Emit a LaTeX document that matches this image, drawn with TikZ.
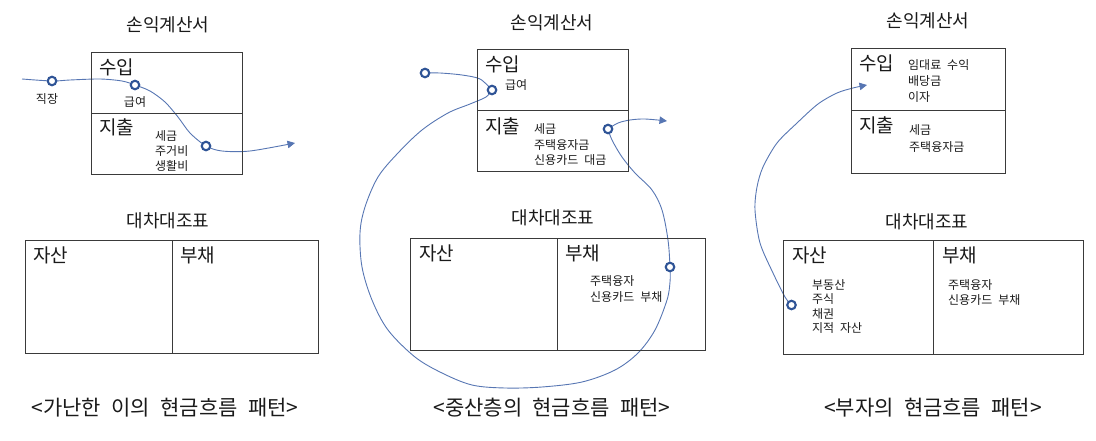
\documentclass[tikz,border=0pt]{standalone}
\usepackage{fontspec}
\setmainfont{Noto Sans CJK KR}[WordSpace=2.2]
\usetikzlibrary{arrows.meta,backgrounds}
\definecolor{boxgray}{HTML}{3A3A3A}
\definecolor{txt}{HTML}{1A1A1A}
\definecolor{flow}{HTML}{5776B3}
\definecolor{dotblue}{HTML}{2F5496}
\tikzset{
  ttl/.style={font=\fontsize{18}{21}\selectfont, text=txt, inner sep=0},
  sect/.style={font=\fontsize{19}{22}\selectfont, text=txt, inner sep=0, anchor=west},
  small/.style={font=\fontsize{12}{#1}\selectfont, text=txt, inner sep=0, anchor=west, align=left},
  small/.default=15,
  capt/.style={font=\fontsize{21}{24}\selectfont, text=txt, inner sep=0},
  panel/.style={draw=boxgray, line width=1.3pt, anchor=north west, inner sep=0},
  dot/.style={circle, draw=dotblue, line width=2.1pt, fill=white, minimum size=8.5pt, inner sep=0},
  flowline/.style={draw=flow, line width=0.9pt},
  tipped/.style={-{Triangle[length=7.5pt,width=7.5pt]}}
}
\begin{document}
\begin{tikzpicture}[x=1pt,y=-1pt]
\useasboundingbox (0,0) rectangle (1096,441);

% ===== Panel 1 =====
\node[ttl] (t1) at (168,25) {손익계산서};
\node[panel, minimum width=151pt, minimum height=61pt] (inc1) at (91,52) {};
\node[panel, minimum width=151pt, minimum height=61pt] (exp1) at (91,113) {};
\node[sect] (inc1l) at (99,67) {수입};
\node[sect] (exp1l) at (99,127) {지출};
\node[small] (exp1s) at (155,151) {세금\\주거비\\생활비};
\node[small, anchor=center] (sal1) at (135,102) {급여};
\node[small, anchor=center] (job1) at (47,99) {직장};
\node[dot] (c1) at (52,81) {};
\node[dot] (c2) at (135,85) {};
\node[dot] (c3) at (206,146) {};
\coordinate (s1) at (22,79);
\coordinate (e1) at (295,143);

\node[ttl] (b1) at (168,221) {대차대조표};
\node[panel, minimum width=147pt, minimum height=113pt] (ast1) at (25,240) {};
\node[panel, minimum width=146pt, minimum height=113pt] (lia1) at (172,240) {};
\node[sect] (ast1l) at (33,255) {자산};
\node[sect] (lia1l) at (180,255) {부채};
\node[capt] (cap1) at (165,408) {<가난한 이의 현금흐름 패턴>};

% ===== Panel 2 =====
\node[ttl] (t2) at (552,23) {손익계산서};
\node[panel, minimum width=151pt, minimum height=61pt] (inc2) at (477,49) {};
\node[panel, minimum width=151pt, minimum height=61pt] (exp2) at (477,110) {};
\node[sect] (inc2l) at (485,64) {수입};
\node[sect] (exp2l) at (485,126) {지출};
\node[small] (sal2) at (505,85) {급여};
\node[small=15.5] (exp2s) at (534,145) {세금\\주택융자금\\신용카드 대금};
\node[dot] (c4) at (425,73) {};
\node[dot] (c5) at (492,90) {};
\node[dot] (c6) at (608,129) {};
\node[dot] (c7) at (670,267) {};
\coordinate (e2) at (667,121);

\node[ttl] (b2) at (553,218) {대차대조표};
\node[panel, minimum width=147pt, minimum height=112pt] (ast2) at (410,238) {};
\node[panel, minimum width=148pt, minimum height=112pt] (lia2) at (557,238) {};
\node[sect] (ast2l) at (419,253) {자산};
\node[sect] (lia2l) at (565,253) {부채};
\node[small=16] (lia2s) at (590,289) {주택융자\\신용카드 부채};
\node[capt] (cap2) at (552,408) {<중산층의 현금흐름 패턴>};

% ===== Panel 3 =====
\node[ttl] (t3) at (928,21) {손익계산서};
\node[panel, minimum width=154pt, minimum height=62pt] (inc3) at (851,48) {};
\node[panel, minimum width=154pt, minimum height=63pt] (exp3) at (851,110) {};
\node[sect] (inc3l) at (859,63) {수입};
\node[sect] (exp3l) at (859,125) {지출};
\node[small=16] (inc3s) at (908,81) {임대료 수익\\배당금\\이자};
\node[small=17] (exp3s) at (909,138.5) {세금\\주택융자금};
\node[dot] (c8) at (791.5,305) {};
\coordinate (e3) at (867,85);

\node[ttl] (b3) at (927,222) {대차대조표};
\node[panel, minimum width=150pt, minimum height=114pt] (ast3) at (783,240) {};
\node[panel, minimum width=150pt, minimum height=114pt] (lia3) at (933,240) {};
\node[sect] (ast3l) at (792,255) {자산};
\node[sect] (lia3l) at (942,255) {부채};
\node[small=14.5] (ast3s) at (812,306.5) {부동산\\주식\\채권\\지적 자산};
\node[small=15] (lia3s) at (948,292.5) {주택융자\\신용카드 부채};
\node[capt] (cap3) at (933,408) {<부자의 현금흐름 패턴>};

% ===== Flow lines =====
\begin{scope}[on background layer]
\draw[flowline, tipped] plot[smooth, tension=0.5] coordinates {(s1) (c1.center) (70,80) (100,79) (122,81) (c2.center) (150,91) (165,102) (178,117) (190,133) (c3.center) (222,151) (250,151) (e1)};

\draw[flowline] plot[smooth, tension=0.5] coordinates {(c4.center) (440,73) (462,75) (480,79) (c5.center)};
\draw[flowline] plot[smooth, tension=0.55] coordinates {(c5.center) (486,97) (470,104) (448,113) (422,130) (398,153) (378,177) (365,207) (360,233) (362,267) (372,300) (388,330) (415,357) (442,373) (472,385) (505,388) (542,387) (582,382) (615,370) (638,353) (655,330) (667,300) (670,282) (c7.center) (668,240) (662,210) (652,190) (635,173) (622,157) (612,140) (c6.center)};
\draw[flowline, tipped] plot[smooth, tension=0.5] coordinates {(c6.center) (618,123) (630,120) (645,119) (e2)};

\draw[flowline, tipped] plot[smooth, tension=0.5] coordinates {(c8.center) (785,297) (773,273) (760,243) (755,210) (757,187) (763,167) (777,143) (797,123) (818,104) (837,93) (853,88) (e3)};
\end{scope}
\end{tikzpicture}
\end{document}
